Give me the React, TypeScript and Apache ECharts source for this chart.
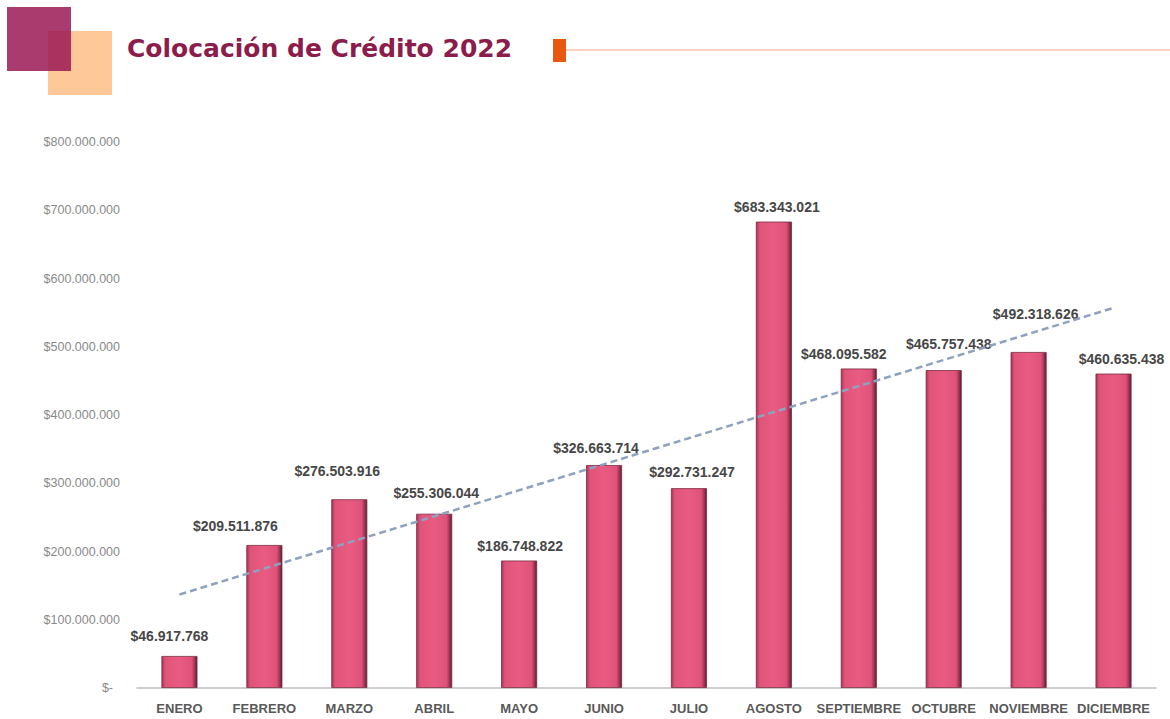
import React, { useEffect, useRef } from "react";
import * as echarts from "echarts";

const months = [
  "ENERO", "FEBRERO", "MARZO", "ABRIL", "MAYO", "JUNIO",
  "JULIO", "AGOSTO", "SEPTIEMBRE", "OCTUBRE", "NOVIEMBRE", "DICIEMBRE",
];
const credit = [
  46917768, 209511876, 276503916, 255306044, 186748822, 326663714,
  292731247, 683343021, 468095582, 465757438, 492318626, 460635438,
];
// dashed trend line at its two ends (ENERO, DICIEMBRE)
const trendEnds = [137000000, 557000000];
const yTicks = { min: 0, max: 800000000, interval: 100000000 };
const titleText = "Colocación de Crédito 2022";

// label nudges (layout only)
const labelOffsets: [number, number][] = [
  [-10, -8], [-29, -7], [-12, -16], [2, -9], [1, -3], [-8, -5],
  [3, -4], [3, -3], [-15, -3], [5, -14], [7, -26], [8, -3],
];

const fmt = (v: number) =>
  "$" + Math.round(v).toString().replace(/\B(?=(\d{3})+(?!\d))/g, ".");

export default function App() {
  const ref = useRef<HTMLDivElement>(null);
  useEffect(() => {
    document.body.style.margin = "0";
    const chart = echarts.init(ref.current!, null, { renderer: "svg" });
    const barGradient = new echarts.graphic.LinearGradient(0, 0, 1, 0, [
      { offset: 0, color: "#a8355a" },
      { offset: 0.1, color: "#e0547a" },
      { offset: 0.5, color: "#ea5b82" },
      { offset: 0.85, color: "#de5279" },
      { offset: 0.93, color: "#a33655" },
      { offset: 1, color: "#5e1e33" },
    ]);
    chart.setOption({
      animation: false,
      backgroundColor: "#ffffff",
      textStyle: { fontFamily: "Liberation Sans, Arial, sans-serif" },
      grid: { left: 137, right: 14, top: 142, bottom: 31 },
      xAxis: {
        type: "category",
        data: months,
        axisLine: { show: true, lineStyle: { color: "#bfbfbf", width: 1.5 } },
        axisTick: { show: false },
        axisLabel: {
          color: "#595959",
          fontSize: 13,
          fontWeight: "bold",
          margin: 14,
          interval: 0,
        },
      },
      yAxis: {
        type: "value",
        min: yTicks.min,
        max: yTicks.max,
        interval: yTicks.interval,
        axisLine: { show: false },
        axisTick: { show: false },
        splitLine: { show: false },
        axisLabel: {
          color: "#8a8a8a",
          fontSize: 12.5,
          margin: 17,
          formatter: (v: number) => (v === 0 ? "{z|$-}" : fmt(v)),
          rich: { z: { color: "#8a8a8a", fontSize: 12.5, padding: [0, 7, 0, 0] } },
        },
      },
      series: [
        {
          type: "bar",
          barWidth: 36,
          data: credit.map((v, i) => ({
            value: v,
            label: { offset: labelOffsets[i] },
          })),
          itemStyle: {
            color: barGradient,
            borderColor: "#7a2840",
            borderWidth: 0.8,
          },
          label: {
            show: true,
            position: "top",
            color: "#474747",
            fontSize: 14,
            fontWeight: "bold",
            formatter: (p: any) => fmt(p.value),
          },
          markLine: {
            silent: true,
            symbol: ["none", "none"],
            label: { show: false },
            lineStyle: { color: "#8ea2bd", width: 2.5, type: [7, 4] },
            data: [
              [
                { coord: [months[0], trendEnds[0]] },
                { coord: [months[months.length - 1], trendEnds[1]] },
              ],
            ],
          },
          z: 2,
        },
      ],
      graphic: [
        {
          type: "rect",
          shape: { x: 48, y: 31, width: 64, height: 64 },
          style: { fill: "#ffc898" },
        },
        {
          type: "rect",
          shape: { x: 7, y: 7, width: 64, height: 64 },
          style: { fill: "#991554", opacity: 0.84 },
        },
        {
          type: "text",
          x: 127,
          y: 48,
          style: {
            text: titleText,
            fill: "#8b1c4b",
            font: "bold 25px 'DejaVu Sans', sans-serif",
            textVerticalAlign: "middle",
          },
        },
        {
          type: "rect",
          shape: { x: 553, y: 39, width: 13, height: 23 },
          style: { fill: "#e8590f" },
        },
        {
          type: "line",
          shape: { x1: 566, y1: 50, x2: 1170, y2: 50 },
          style: { stroke: "#fad3bf", lineWidth: 2 },
        },
      ],
    });
    return () => chart.dispose();
  }, []);
  return (
    <div
      ref={ref}
      style={{ position: "fixed", left: 0, top: 0, width: 1170, height: 719 }}
    />
  );
}
